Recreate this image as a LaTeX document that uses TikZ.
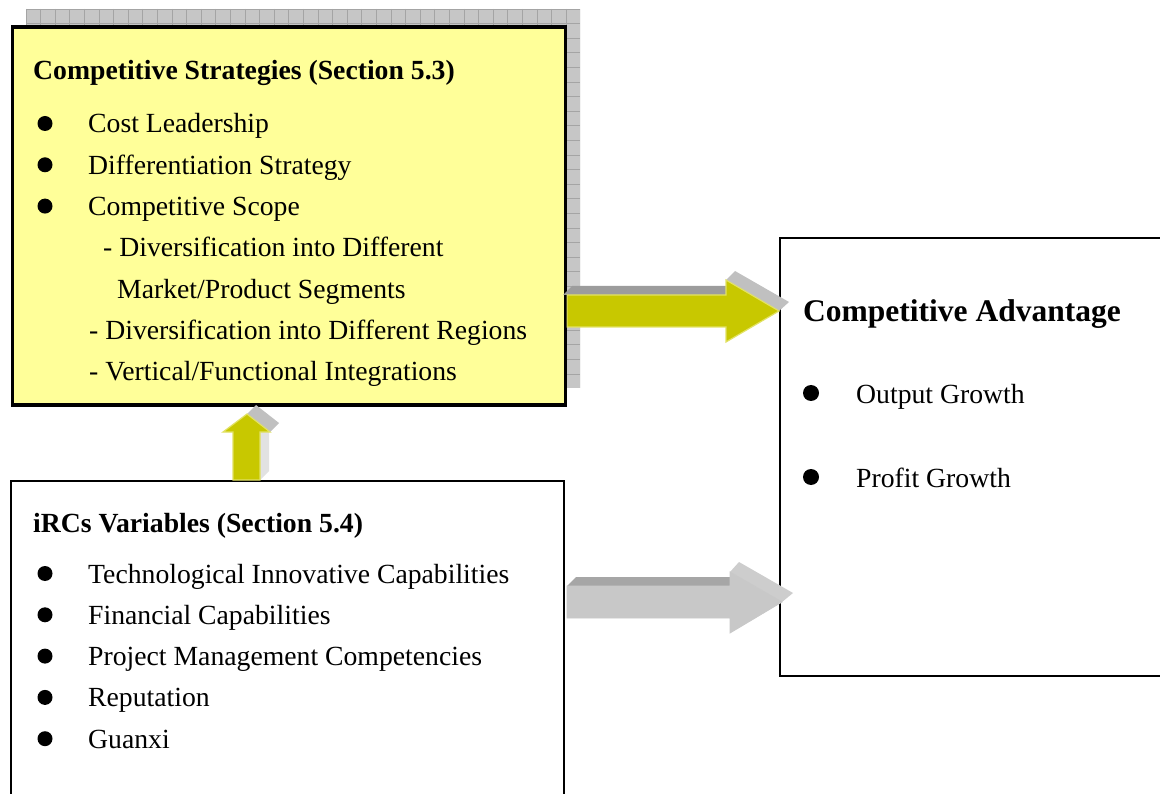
\documentclass[tikz,border=0pt]{standalone}
\usepackage{fontspec}
\setmainfont{Liberation Serif}
\definecolor{boxyellow}{HTML}{FFFF99}
\definecolor{gridfill}{HTML}{C6C6C6}
\definecolor{gridline}{HTML}{A4A4A4}
\definecolor{arrowyellow}{HTML}{C8C800}
\definecolor{arrowedge}{HTML}{E2E264}
\definecolor{facedark}{HTML}{9C9C9C}
\definecolor{facelight}{HTML}{C0C0C0}
\definecolor{facepale}{HTML}{E2E2E2}
\definecolor{arrowgray}{HTML}{C8C8C8}
\definecolor{grayshaft}{HTML}{A6A6A6}
\definecolor{grayhead}{HTML}{CDCDCD}
\begin{document}
\begin{tikzpicture}[x=1pt,y=-1pt,
  ybox/.style={draw=black,line width=3.6pt,fill=boxyellow,anchor=north west,inner sep=0pt},
  wbox/.style={draw=black,line width=1.6pt,fill=white,anchor=north west,inner sep=0pt},
  abox/.style={draw=black,line width=2.2pt,fill=white,anchor=north west,inner sep=0pt},
  body/.style={anchor=base west,inner sep=0pt,font=\fontsize{27.7}{30}\selectfont},
  head/.style={anchor=base west,inner sep=0pt,font=\fontsize{27.7}{30}\selectfont\bfseries},
  bighead/.style={anchor=base west,inner sep=0pt,font=\fontsize{31.5}{34}\selectfont\bfseries},
  bullet/.style={circle,fill=black,inner sep=0pt,minimum size=15pt},
  bigbullet/.style={circle,fill=black,inner sep=0pt,minimum size=16pt},
  yarrow/.style={fill=arrowyellow,draw=arrowedge,line width=1.2pt,line join=miter},
  garrow/.style={fill=arrowgray,draw=arrowgray,line width=0.8pt},
  darkface/.style={fill=facedark},
  lightface/.style={fill=facelight},
  paleface/.style={fill=facepale}
]
\useasboundingbox (0,0) rectangle (1160,794);
\fill[white] (0,0) rectangle (1160,794);

% grid shadow behind the strategies box
\fill[gridfill] (26,9) rectangle (580,388);
\begin{scope}
\clip (26,9) rectangle (580,388);
\foreach \i in {0,...,38} {
  \draw[gridline,line width=0.8pt] ({26+14.6*\i},9) -- ({26+14.6*\i},388);
}
\foreach \j in {0,...,26} {
  \draw[gridline,line width=0.8pt] (26,{9+14.6*\j}) -- (580,{9+14.6*\j});
}
\end{scope}

% boxes
\node[ybox,minimum width=553pt,minimum height=378pt] (cs) at (10.5,25.5) {};
\node[wbox,minimum width=553pt,minimum height=340pt] (irc) at (10,480) {};
\node[abox,minimum width=400pt,minimum height=438pt] (ca) at (779,237) {};

% arrow: strategies -> advantage (yellow, 3D)
\coordinate (a1from) at (cs.east |- 0,311);
\coordinate (a1to) at (ca.west |- 0,311);
\fill[darkface] (563,295) -- (572,286) -- (735,286) -- (726,295) -- cycle;
\fill[lightface] (726,280) -- (735,271) -- (789,302) -- (a1to) -- cycle;
\draw[yarrow] (a1from |- 0,295) -- (726,295) -- (726,280) -- (a1to) -- (726,342) -- (726,327) -- (a1from |- 0,327) -- cycle;

% arrow: iRCs -> advantage (gray, 3D)
\coordinate (a2from) at (567,602);
\coordinate (a2to) at (782,602);
\fill[grayshaft] (567,586) -- (576,577) -- (739,577) -- (730,586) -- cycle;
\fill[grayhead] (730,572) -- (739,562) -- (793,593) -- (a2to) -- cycle;
\draw[garrow] (a2from |- 0,586) -- (730,586) -- (730,572) -- (a2to) -- (730,633) -- (730,618) -- (a2from |- 0,618) -- cycle;

% arrow: iRCs -> strategies (yellow, up, 3D)
\coordinate (a3from) at (247,480);
\coordinate (a3to) at (247,414);
\fill[paleface] (260,480) -- (269,471) -- (269,423) -- (260,432) -- cycle;
\fill[lightface] (a3to) -- (256,405) -- (279,423) -- (270,432) -- cycle;
\draw[yarrow] (233,480) -- (233,432) -- (223,432) -- (a3to) -- (270,432) -- (260,432) -- (260,480) -- cycle;

% strategies text
\node[head] (cstitle) at (33,80) {Competitive Strategies (Section 5.3)};
\node[bullet] (csb1) at (45,123.5) {};
\node[body] (cs1) at (88,133) {Cost Leadership};
\node[bullet] (csb2) at (45,164.8) {};
\node[body] (cs2) at (88,174.3) {Differentiation Strategy};
\node[bullet] (csb3) at (45,206.1) {};
\node[body] (cs3) at (88,215.6) {Competitive Scope};
\node[body] (cs4) at (103,256.9) {- Diversification into Different};
\node[body] (cs5) at (117,298.2) {Market/Product Segments};
\node[body] (cs6) at (89,339.5) {- Diversification into Different Regions};
\node[body] (cs7) at (89,380.8) {- Vertical/Functional Integrations};

% iRCs text
\node[head] (irctitle) at (33,532) {iRCs Variables (Section 5.4)};
\node[bullet] (ib1) at (45,573.5) {};
\node[body] (i1) at (88,583) {Technological Innovative Capabilities};
\node[bullet] (ib2) at (45,614.8) {};
\node[body] (i2) at (88,624.3) {Financial Capabilities};
\node[bullet] (ib3) at (45,656.1) {};
\node[body] (i3) at (88,665.6) {Project Management Competencies};
\node[bullet] (ib4) at (45,697.4) {};
\node[body] (i4) at (88,706.9) {Reputation};
\node[bullet] (ib5) at (45,738.7) {};
\node[body] (i5) at (88,748.2) {Guanxi};

% advantage text
\node[bighead] (catitle) at (803,322) {Competitive Advantage};
\node[bigbullet] (cab1) at (811,393) {};
\node[body] (ca1) at (856,403) {Output Growth};
\node[bigbullet] (cab2) at (811,477) {};
\node[body] (ca2) at (856,487) {Profit Growth};
\end{tikzpicture}
\end{document}
